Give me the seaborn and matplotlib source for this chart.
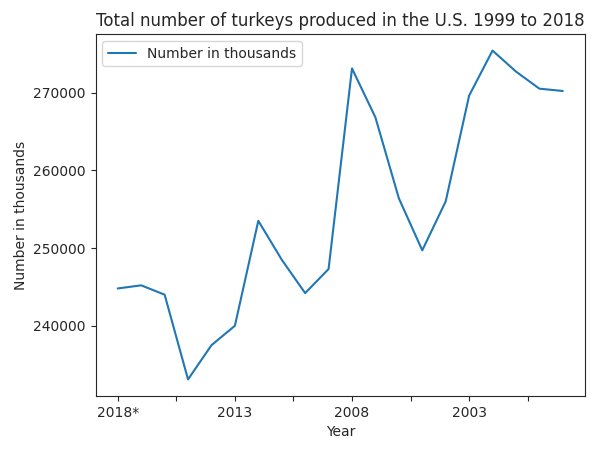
import matplotlib
matplotlib.use('Agg')
import pandas as pd
import seaborn as sns
import matplotlib.pyplot as plt

years = ['2018*', '2017', '2016', '2015', '2014', '2013', '2012', '2011', '2010', '2009',
         '2008', '2007', '2006', '2005', '2004', '2003', '2002', '2001', '2000', '1999']
turkeys = [244800, 245200, 244000, 233100, 237500, 240000, 253500, 248500, 244200, 247300,
           273100, 266800, 256400, 249700, 256000, 269600, 275400, 272700, 270500, 270200]

df = pd.DataFrame({'pos': range(len(years)), 'Number in thousands': turkeys})

sns.set_style('ticks')
plt.rcParams['font.family'] = ['DejaVu Sans']
fig, ax = plt.subplots(figsize=(5.97, 4.55), dpi=100)
sns.lineplot(data=df, x='pos', y='Number in thousands', ax=ax, label='Number in thousands')

ticks = [i * 2.5 for i in range(8)]
labels = [years[int(t)] if t == int(t) else '' for t in ticks]
ax.set_xticks(ticks)
ax.set_xticklabels(labels)
ax.set_xlim(-0.95, 19.95)
ax.set_xlabel('Year')
ax.set_ylabel('Number in thousands')
ax.set_title('Total number of turkeys produced in the U.S. 1999 to 2018')
ax.legend(loc='upper left')
plt.subplots_adjust(left=0.16, right=0.98, top=0.925, bottom=0.13)
plt.savefig('out.png')
